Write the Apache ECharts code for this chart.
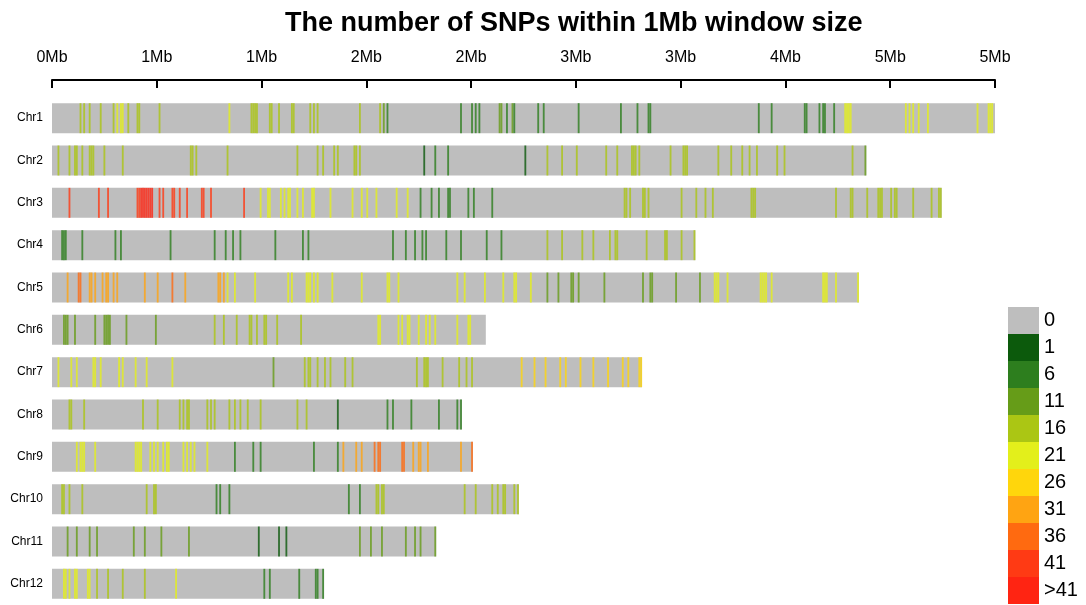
<!DOCTYPE html>
<html>
<head>
<meta charset="utf-8">
<script src="https://cdn.jsdelivr.net/npm/echarts@6/dist/echarts.min.js"></script>
<style>
  html, body { margin: 0; padding: 0; background: #fff; }
  #chart { width: 1086px; height: 605px; }
</style>
</head>
<body>
<div id="chart"></div>
<script>
// Chromosome names and lengths (Mb)
const chromosomes = ['Chr1','Chr2','Chr3','Chr4','Chr5','Chr6','Chr7','Chr8','Chr9','Chr10','Chr11','Chr12'];
const chromLengths = [5.13, 4.43, 4.84, 3.50, 4.39, 2.36, 3.21, 2.23, 2.29, 2.54, 2.09, 1.48];

// Top axis tick labels (one per tick)
const tickLabels = ['0Mb','1Mb','1Mb','2Mb','2Mb','3Mb','3Mb','4Mb','5Mb','5Mb'];
const TICK_STEP = 0.57;
const WINDOW = 0.01;

// SNP counts per window: [window start (Mb), number of SNPs]
const chr1Windows = [[0.15,20],[0.17,20],[0.20,20],[0.26,20],[0.33,20],[0.35,21],[0.37,22],[0.38,22],[0.41,20],[0.46,20],[0.47,20],[0.58,18],
  [0.96,22],[1.08,17],[1.09,18],[1.10,17],[1.11,17],[1.18,17],[1.19,17],[1.23,17],[1.30,18],[1.31,18],[1.40,16],[1.42,16],[1.44,16],[1.67,16],[1.78,16],[1.80,14],[1.82,8],
  [2.22,9],[2.28,9],[2.30,8],[2.32,9],[2.43,11],[2.44,11],[2.47,9],[2.50,11],[2.51,9],[2.64,8],[2.67,8],[2.86,8],
  [3.09,8],[3.18,8],[3.24,7],[3.25,7],[3.84,9],[3.91,10],[4.09,9],[4.10,8],[4.17,8],[4.19,7],[4.20,9],[4.25,8],
  [4.31,22],[4.32,24],[4.33,24],[4.34,22],[4.64,21],[4.66,21],[4.68,21],[4.71,21],[4.76,21],[5.03,21],[5.09,23],[5.10,24],[5.11,23]];
const chr2Windows = [[0.03,17],[0.09,17],[0.12,17],[0.13,17],[0.16,17],[0.20,19],[0.21,19],[0.22,18],[0.28,17],[0.38,17],[0.75,17],[0.76,17],[0.78,17],[0.95,17],
  [1.33,17],[1.44,17],[1.47,18],[1.53,17],[1.55,17],[1.64,17],[1.65,17],[1.67,17],[2.02,5],[2.08,7],[2.15,6],[2.57,5],
  [2.69,17],[2.77,18],[2.85,17],[3.01,17],[3.07,17],[3.15,18],[3.16,19],[3.17,18],[3.19,17],[3.36,17],[3.43,18],[3.44,19],[3.45,18],
  [3.62,17],[3.69,17],[3.75,17],[3.79,17],[3.83,17],[3.94,17],[3.98,17],[4.35,17],[4.42,15]];
const chr3Windows = [[0.09,41],[0.25,41],[0.30,41],[0.46,41],[0.47,41],[0.48,60],[0.49,60],[0.50,60],[0.51,60],[0.52,60],[0.53,60],[0.54,60],
  [0.58,41],[0.60,41],[0.65,41],[0.66,41],[0.69,41],[0.73,41],[0.81,41],[0.82,41],[0.86,41],[1.04,41],
  [1.13,23],[1.17,23],[1.18,23],[1.24,23],[1.26,23],[1.28,24],[1.29,24],[1.33,23],[1.36,23],[1.41,25],[1.42,25],[1.51,23],[1.63,23],[1.68,23],[1.71,23],[1.76,23],[1.87,23],[1.93,23],
  [2.00,9],[2.06,9],[2.10,9],[2.15,9],[2.16,9],[2.26,9],[2.29,9],[2.39,9],
  [3.11,18],[3.12,18],[3.14,18],[3.21,18],[3.22,18],[3.24,18],[3.42,18],[3.50,18],[3.55,18],[3.59,18],[3.80,19],[3.81,19],[3.82,19],
  [4.26,18],[4.34,18],[4.35,18],[4.43,18],[4.49,18],[4.50,18],[4.51,18],[4.56,18],[4.58,18],[4.59,18],[4.68,18],[4.78,18],[4.82,19],[4.83,19]];
const chr4Windows = [[0.05,9],[0.06,9],[0.07,9],[0.16,9],[0.34,9],[0.37,9],[0.64,9],[0.88,9],[0.94,9],[0.98,9],[1.02,9],[1.21,9],[1.36,9],[1.39,9],
  [1.85,10],[1.92,10],[1.97,10],[2.01,10],[2.03,10],[2.14,10],[2.22,10],[2.36,10],[2.44,10],
  [2.69,19],[2.77,19],[2.88,19],[2.94,19],[3.03,19],[3.06,19],[3.07,19],[3.23,19],[3.33,19],[3.34,19],[3.42,19],[3.49,19]];
const chr5Windows = [[0.08,33],[0.14,36],[0.15,36],[0.20,33],[0.21,33],[0.23,33],[0.27,33],[0.29,33],[0.30,33],[0.33,33],[0.35,33],[0.50,33],[0.57,33],[0.65,36],[0.72,33],[0.90,33],[0.91,33],[0.93,33],
  [0.95,22],[0.99,23],[1.10,22],[1.28,22],[1.30,22],[1.38,23],[1.39,23],[1.40,23],[1.42,22],[1.44,22],[1.52,22],[1.68,22],[1.82,23],[1.83,23],[1.88,22],
  [2.20,22],[2.24,22],[2.35,22],[2.45,22],[2.51,23],[2.52,23],[2.60,23],
  [2.69,11],[2.75,11],[2.82,11],[2.83,11],[2.86,11],[3.00,11],[3.21,11],[3.25,11],[3.26,11],[3.39,11],[3.52,11],
  [3.60,24],[3.61,24],[3.62,24],[3.67,23],[3.85,24],[3.86,24],[3.87,24],[3.88,24],[3.91,23],[4.19,24],[4.20,24],[4.21,24],[4.26,23],[4.38,23]];
const chr6Windows = [[0.06,14],[0.07,14],[0.08,14],[0.12,14],[0.23,14],[0.28,14],[0.29,15],[0.30,15],[0.31,15],[0.40,13],[0.56,13],
  [0.88,18],[0.93,18],[1.00,18],[1.07,18],[1.08,18],[1.11,18],[1.15,18],[1.16,18],[1.22,18],[1.35,18],
  [1.77,23],[1.78,23],[1.88,21],[1.90,21],[1.93,22],[1.94,22],[1.99,21],[2.03,21],[2.05,21],[2.08,21],[2.20,21],[2.26,21],[2.27,21]];
const chr7Windows = [[0.03,22],[0.10,21],[0.13,21],[0.22,22],[0.23,22],[0.26,21],[0.36,21],[0.38,21],[0.45,21],[0.51,21],[0.65,22],
  [1.20,14],[1.37,16],[1.39,16],[1.40,16],[1.44,16],[1.48,16],[1.51,16],[1.59,16],[1.63,16],[1.98,16],[2.02,17],[2.03,17],[2.04,17],[2.12,16],[2.21,16],[2.25,16],[2.28,16],
  [2.55,27],[2.62,27],[2.68,27],[2.76,27],[2.79,27],[2.87,27],[2.94,27],[3.02,27],[3.10,27],[3.13,27],[3.19,27],[3.20,27]];
const chr8Windows = [[0.09,16],[0.10,16],[0.17,16],[0.49,16],[0.57,16],[0.69,16],[0.71,16],[0.73,16],[0.74,16],[0.84,16],[0.86,16],[0.88,16],[0.96,16],[0.99,16],[1.02,16],[1.06,16],[1.13,16],[1.33,16],[1.38,16],
  [1.55,4],[1.82,7],[1.85,7],[1.95,7],[2.10,7],[2.20,7],[2.22,7]];
const chr9Windows = [[0.13,24],[0.15,24],[0.16,24],[0.17,24],[0.23,24],[0.45,24],[0.46,24],[0.47,24],[0.48,24],[0.53,24],[0.55,24],[0.57,24],[0.60,24],[0.62,24],[0.63,24],[0.71,24],[0.73,24],[0.75,24],[0.77,24],[0.84,24],
  [0.99,6],[1.09,6],[1.13,6],[1.42,6],[1.55,6],
  [1.58,35],[1.65,35],[1.68,35],[1.75,37],[1.77,37],[1.78,37],[1.90,38],[1.91,38],[1.96,35],[1.99,35],[2.00,35],[2.04,35],[2.22,35],[2.28,36]];
const chr10Windows = [[0.05,16],[0.06,16],[0.09,16],[0.16,16],[0.51,16],[0.55,17],[0.56,17],[0.89,7],[0.91,7],[0.96,7],[1.61,6],[1.67,6],
  [1.76,16],[1.77,16],[1.79,16],[1.80,16],[2.24,16],[2.30,16],[2.39,16],[2.42,16],[2.45,17],[2.46,17],[2.51,16],[2.53,17]];
const chr11Windows = [[0.08,12],[0.13,12],[0.20,12],[0.24,12],[0.44,12],[0.50,12],[0.59,12],[0.74,12],[1.12,5],[1.23,5],[1.27,5],
  [1.67,12],[1.73,12],[1.79,12],[1.92,12],[1.97,12],[2.00,12],[2.08,12]];
const chr12Windows = [[0.06,21],[0.07,21],[0.09,21],[0.12,22],[0.13,22],[0.19,21],[0.20,21],[0.24,20],[0.30,20],[0.38,20],[0.50,20],[0.67,21],
  [1.15,7],[1.18,7],[1.34,7],[1.43,7],[1.44,7],[1.47,8]];

const windowsByChrom = [chr1Windows, chr2Windows, chr3Windows, chr4Windows, chr5Windows, chr6Windows,
  chr7Windows, chr8Windows, chr9Windows, chr10Windows, chr11Windows, chr12Windows];

// Density legend bins
const binLabels = ['0','1','6','11','16','21','26','31','36','41','>41'];
const binColors = ['#BEBEBE','#0C5A0C','#2D7E1E','#669C18','#ABC614','#E3EF1B','#FFD60C','#FFA412','#FF6A10','#FF3A14','#FF2412'];
const binRanges = [[0,0],[1,5],[6,10],[11,15],[16,20],[21,25],[26,30],[31,35],[36,40],[41,41],[42,Infinity]];

const windowData = [];
windowsByChrom.forEach((list, ci) => {
  list.forEach(([pos, count]) => windowData.push([pos, ci, count]));
});

const FONT = "'Liberation Sans', Arial, Helvetica, sans-serif";
const BAR_HEIGHT = 30;

const chart = echarts.init(document.getElementById('chart'), null, { renderer: 'canvas' });
chart.setOption({
  animation: false,
  backgroundColor: '#ffffff',
  textStyle: { fontFamily: FONT },
  title: {
    text: 'The number of SNPs within 1Mb window size',
    left: 280, top: 5,
    textStyle: { fontSize: 27, fontWeight: 'bold', color: '#000', fontFamily: FONT }
  },
  grid: { left: 52, width: 943, top: 97, height: 510 },
  xAxis: {
    type: 'value', position: 'top', offset: 17,
    min: 0, max: TICK_STEP * (tickLabels.length - 1), interval: TICK_STEP,
    axisLine: { show: true, lineStyle: { color: '#000', width: 2 } },
    axisTick: { show: true, inside: true, length: 8, lineStyle: { color: '#000', width: 2 } },
    axisLabel: {
      fontSize: 16, color: '#000', margin: 14, fontFamily: FONT,
      formatter: v => tickLabels[Math.round(v / TICK_STEP)] || ''
    },
    splitLine: { show: false }
  },
  yAxis: {
    type: 'category', data: chromosomes, inverse: true,
    axisLine: { show: false }, axisTick: { show: false },
    axisLabel: { fontSize: 12, color: '#000', margin: 9, fontFamily: FONT }
  },
  visualMap: {
    type: 'piecewise', seriesIndex: 1, dimension: 2,
    orient: 'vertical', inverse: true, align: 'left',
    left: 1008, top: 307, padding: 0,
    itemWidth: 31, itemHeight: 27, itemGap: 0, itemSymbol: 'rect', textGap: 5,
    hoverLink: false, selectedMode: false,
    textStyle: { fontSize: 20, color: '#000', fontFamily: FONT },
    pieces: binLabels.map((lab, i) => {
      const [lo, hi] = binRanges[i];
      const p = { label: lab, color: binColors[i] };
      if (hi === Infinity) p.gte = lo; else { p.gte = lo; p.lte = hi; }
      return p;
    })
  },
  series: [
    {
      type: 'bar', silent: true, barWidth: BAR_HEIGHT, z: 1,
      itemStyle: { color: binColors[0] },
      data: chromLengths
    },
    {
      type: 'custom', silent: true, clip: false, z: 5,
      encode: { x: 0, y: 1 },
      data: windowData,
      renderItem: (params, api) => {
        const p0 = api.coord([api.value(0), api.value(1)]);
        const p1 = api.coord([api.value(0) + WINDOW, api.value(1)]);
        return {
          type: 'rect',
          shape: { x: p0[0], y: p0[1] - BAR_HEIGHT / 2, width: p1[0] - p0[0], height: BAR_HEIGHT },
          style: { fill: api.visual('color'), opacity: 0.8 }
        };
      }
    }
  ]
});
</script>
</body>
</html>
